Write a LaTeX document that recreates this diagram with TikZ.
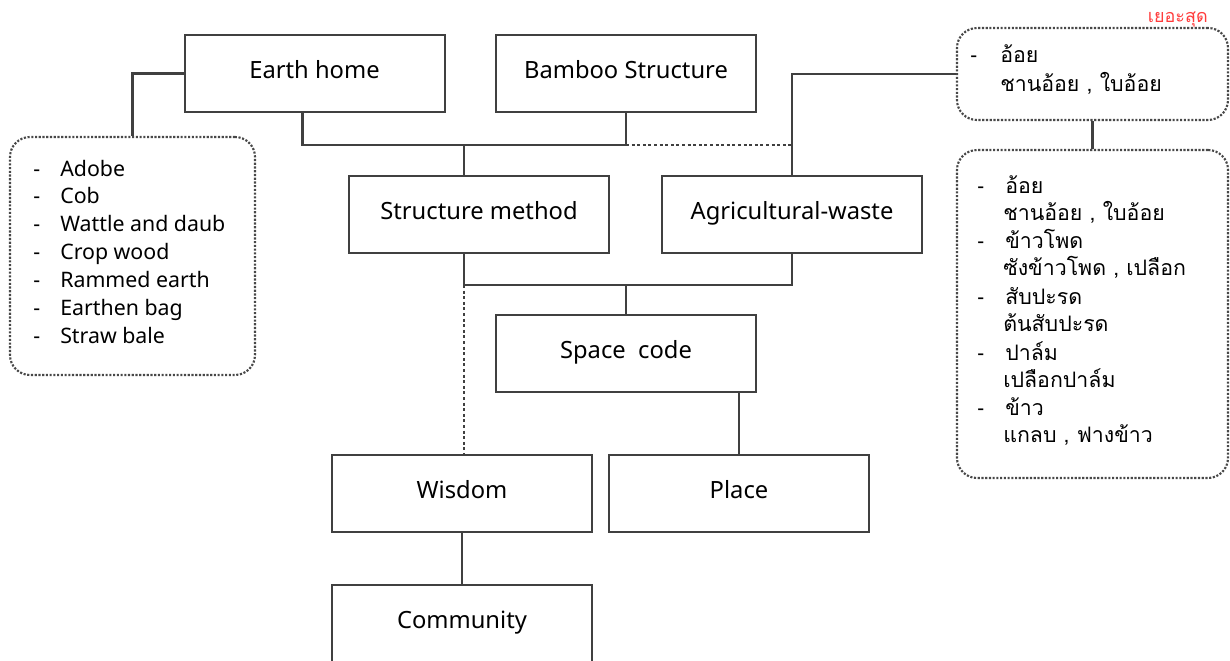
\documentclass[tikz,border=0pt]{standalone}
\usepackage{fontspec}
\setmainfont{Noto Sans}
\newfontfamily\thaifont[Script=Thai]{Loma}
\usetikzlibrary{calc}
\definecolor{linec}{HTML}{404040}
\definecolor{dotc}{HTML}{484848}
\definecolor{redc}{HTML}{FF3B3B}
\newcommand\bxfont{\fontsize{17.8}{20}\selectfont}
\newcommand\lsfont{\fontsize{16}{19}\selectfont}
\newcommand\thfont{\thaifont\fontsize{16}{19}\selectfont}
\tikzset{
 box/.style={draw=linec, line width=1.5pt, minimum width=195pt, minimum height=57.75pt, inner sep=0pt, text height=13pt, text depth=5pt, font=\bxfont},
 conn/.style={draw=linec, line width=2.2pt},
 dotconn/.style={draw=linec, line width=2.2pt, dash pattern=on 2.2pt off 2pt},
 dotbox/.style={draw=dotc, line width=1.6pt, dash pattern=on 1.6pt off 1.2pt, rounded corners=15pt, inner sep=0pt},
 item/.style={anchor=base west, inner sep=0pt},
}
\begin{document}
\begin{tikzpicture}[x=0.75pt,y=-0.75pt]
\useasboundingbox (0,0) rectangle (1230,660);
\clip (0,0) rectangle (1230,660);
% boxes
\node[box] (earth) at (314.5,73.5) {Earth home};
\node[box] (bamboo) at (626,73.5) {Bamboo Structure};
\node[box] (struct) at (479,214) {Structure method};
\node[box] (agri) at (792,214) {Agricultural-waste};
\node[box] (space) at (626,353.5) {Space\ \ code};
\node[box] (wisdom) at (462,493.5) {Wisdom};
\node[box] (place) at (739,493.5) {Place};
\node[box] (community) at (462,623) {Community};
% dotted boxes
\node[dotbox, minimum width=183.75pt, minimum height=178.5pt] (lbox) at (132.5,256) {};
\node[dotbox, minimum width=203.25pt, minimum height=69pt] (rtop) at (1092.5,74) {};
\node[dotbox, minimum width=203.25pt, minimum height=246pt] (rbot) at (1092.5,314) {};
\node[anchor=base east, inner sep=0pt, text=redc, font=\thaifont\fontsize{13.5}{15}\selectfont] (most) at (1208,23) {เยอะสุด};
% left list
\foreach \t [count=\i] in {Adobe,Cob,Wattle and daub,Crop wood,Rammed earth,Earthen bag,Straw bale}{
  \node[item, font=\lsfont] (ld\i) at (33,{170+27.9*(\i-1)+6}) {-};
  \node[item, font=\lsfont] (lt\i) at (60,{170+27.9*(\i-1)+6}) {\t};
}
% right top
\node[item, font=\lsfont] (td1) at (970,63) {-};
\node[item, font=\thfont] (tt1) at (1000,63) {อ้อย};
\node[item, font=\thfont] (tt2) at (1000,91) {ชานอ้อย , ใบอ้อย};
% right bottom
\foreach \a/\b [count=\i] in {อ้อย/{ชานอ้อย , ใบอ้อย},ข้าวโพด/{ซังข้าวโพด , เปลือก},สับปะรด/ต้นสับปะรด,ปาล์ม/เปลือกปาล์ม,ข้าว/{แกลบ , ฟางข้าว}}{
  \node[item, font=\lsfont] (bd\i) at (977,{187+55.7*(\i-1)+6}) {-};
  \node[item, font=\thfont] (ba\i) at (1005,{187+55.7*(\i-1)+6}) {\a};
  \node[item, font=\thfont] (bb\i) at (1003,{214+55.7*(\i-1)+6}) {\b};
}
% connectors
\coordinate (h1) at (464,145);
\coordinate (h2) at (626,145);
\coordinate (h3) at (792,145);
\coordinate (h4) at (464,285);
\draw[conn] (earth.west) -| (lbox.north);
\draw[conn] ($(earth.south)+(-12,0)$) |- (h2) -- (bamboo.south);
\draw[conn] (h1) -- (h1 |- struct.north);
\draw[dotconn] (h2) -- (h3);
\draw[conn] (rtop.west) -| (agri.north);
\draw[conn] (rtop.south) -- (rbot.north);
\draw[conn] (h4 |- struct.south) -- (h4) -| (agri.south);
\draw[conn] (space.north) -- (space.north |- h4);
\draw[dotconn] (h4) -- (h4 |- wisdom.north);
\draw[conn] (place.north |- space.south) -- (place.north);
\draw[conn] (wisdom.south) -- (community.north);
\end{tikzpicture}
\end{document}
